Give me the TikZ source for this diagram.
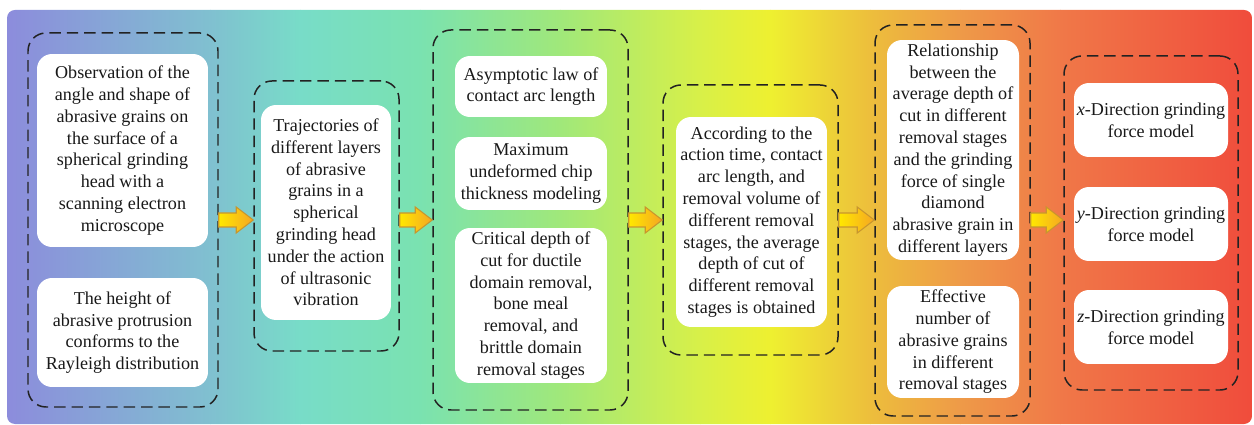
\documentclass[tikz,border=0pt]{standalone}
\usepackage{fontspec}
\setmainfont{Liberation Serif}
\usepackage{xcolor}
\usepackage{tikz}
\usetikzlibrary{calc,fit}
\definecolor{bgPurple}{HTML}{8C8CDC}
\definecolor{bgSteel}{HTML}{80C0D0}
\definecolor{bgTeal}{HTML}{78DCC8}
\definecolor{bgMint}{HTML}{7AE2B0}
\definecolor{bgLime}{HTML}{A0E87A}
\definecolor{bgYellowGreen}{HTML}{D8F048}
\definecolor{bgYellow}{HTML}{EEF030}
\definecolor{bgAmber}{HTML}{EDBE3C}
\definecolor{bgOrange}{HTML}{EE9A48}
\definecolor{bgCoral}{HTML}{F07848}
\definecolor{bgRed}{HTML}{F04C3C}
\definecolor{arrowYellow}{HTML}{FFE800}
\definecolor{arrowOrange}{HTML}{F5A623}
\definecolor{arrowEdge}{HTML}{C8962E}
\definecolor{dashGray}{HTML}{222222}
\tikzset{
    stageGroup/.style={draw=dashGray,line width=0.85pt,dash pattern=on 6.5pt off 3.4pt,
      rounded corners=0.36cm,inner sep=0pt},
    card/.style={fill=white,rounded corners=0.3cm,inner sep=1pt,align=center,
      text=black!90,font=\fontsize{10.3}{12.4}\selectfont},
    flowArrow/.style={left color=arrowYellow,right color=arrowOrange,draw=arrowEdge,
      line width=0.6pt,line join=miter}
}
\newcommand{\stageArrow}[2]{%
    \shade[flowArrow] ($(#1.east |- axis)+(0,-7)$) -- ($(#2.west |- axis)+(-17,-7)$)
      -- ($(#2.west |- axis)+(-17,-13)$) -- (#2.west |- axis)
      -- ($(#2.west |- axis)+(-17,13)$) -- ($(#2.west |- axis)+(-17,7)$)
      -- ($(#1.east |- axis)+(0,7)$) -- cycle;}

\begin{document}
\begin{tikzpicture}[x=0.02cm,y=-0.02cm]
    \useasboundingbox (0,0) rectangle (1254,425);
    % background band
    \begin{scope}
      \clip[rounded corners=0.16cm] (7,10) rectangle (1252,424);
      \foreach \xa/\xb/\ca/\cb in {7/210/bgPurple/bgSteel,210/300/bgSteel/bgTeal,
        300/420/bgTeal/bgMint,420/560/bgMint/bgLime,560/700/bgLime/bgYellowGreen,
        700/770/bgYellowGreen/bgYellow,770/870/bgYellow/bgAmber,870/960/bgAmber/bgOrange,
        960/1060/bgOrange/bgCoral,1060/1252/bgCoral/bgRed}
        {\shade[left color=\ca,right color=\cb] (\xa,10) rectangle (\xb+0.6,424);}
    \end{scope}
    \coordinate (axis) at (0,220);

    % dashed groups
    \node[stageGroup,fit={(28,33) (218,407)}] (g1) {};
    \node[stageGroup,fit={(254,81) (399,351)}] (g2) {};
    \node[stageGroup,fit={(433,30) (628,410)}] (g3) {};
    \node[stageGroup,fit={(663,85) (838,355)}] (g4) {};
    \node[stageGroup,fit={(875,25) (1030,416)}] (g5) {};
    \node[stageGroup,fit={(1064,56) (1238,390)}] (g6) {};

    % stage 1
    \node[card,minimum width=3.42cm,minimum height=3.86cm] (sem) at (122.5,150.5)
      {Observation of the\\angle and shape of\\abrasive grains on\\the surface of a\\spherical grinding\\head with a\\scanning electron\\microscope};
    \node[card,minimum width=3.42cm,minimum height=2.18cm] (rayleigh) at (122.5,332.5)
      {The height of\\abrasive protrusion\\conforms to the\\Rayleigh distribution};
    % stage 2
    \node[card,minimum width=2.6cm,minimum height=4.3cm] (traj) at (326,212.5)
      {Trajectories of\\different layers\\of abrasive\\grains in a\\spherical\\grinding head\\under the action\\of ultrasonic\\vibration};
    % stage 3
    \node[card,minimum width=3.04cm,minimum height=1.22cm] (arclaw) at (531,86.5)
      {Asymptotic law of\\contact arc length};
    \node[card,minimum width=3.04cm,minimum height=1.46cm] (chip) at (531,173.5)
      {Maximum\\undeformed chip\\thickness modeling};
    \node[card,minimum width=3.04cm,minimum height=3.1cm] (critical) at (531,305.5)
      {Critical depth of\\cut for ductile\\domain removal,\\bone meal\\removal, and\\brittle domain\\removal stages};
    % stage 4
    \node[card,minimum width=3.02cm,minimum height=4.2cm] (avgdepth) at (751.5,222)
      {According to the\\action time, contact\\arc length, and\\removal volume of\\different removal\\stages, the average\\depth of cut of\\different removal\\stages is obtained};
    % stage 5
    \node[card,minimum width=2.64cm,minimum height=4.4cm] (single) at (953,150)
      {Relationship\\between the\\average depth of\\cut in different\\removal stages\\and the grinding\\force of single\\diamond\\abrasive grain in\\different layers};
    \node[card,minimum width=2.64cm,minimum height=2.24cm] (effective) at (953,342)
      {Effective\\number of\\abrasive grains\\in different\\removal stages};
    % stage 6
    \foreach \ax/\yc in {x/120,y/224,z/327}
      {\node[card,minimum width=3.08cm,minimum height=1.48cm] (force\ax) at (1151,\yc)
        {\textit{\ax}-Direction grinding\\force model};}

    % arrows between groups
    \stageArrow{g1}{g2}
    \stageArrow{g2}{g3}
    \stageArrow{g3}{g4}
    \stageArrow{g4}{g5}
    \stageArrow{g5}{g6}
\end{tikzpicture}
\end{document}
